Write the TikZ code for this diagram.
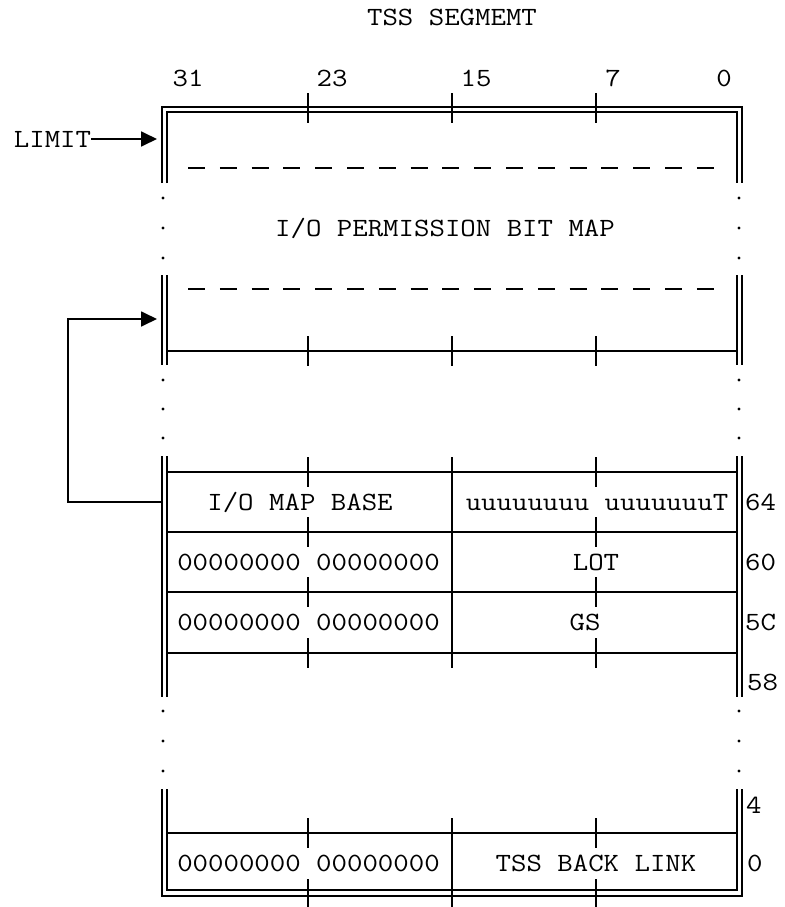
\documentclass[tikz,border=0pt]{standalone}
\usepackage{fontspec}
\newfontfamily\monofont[FakeStretch=1.14]{Latin Modern Mono}
\usetikzlibrary{arrows.meta}

\begin{document}
\begin{tikzpicture}[
  x=1pt, y=-1pt,
  font=\monofont\fontsize{26.3pt}{30pt}\selectfont,
  wall/.style={line width=1.3pt},
  rule/.style={line width=1.8pt},
  dashline/.style={line width=1.8pt, dash pattern=on 17pt off 14.8pt},
  lbl/.style={anchor=base, inner sep=0pt},
  offs/.style={anchor=base west, inner sep=0pt},
  dotmark/.style={fill=black, draw=none},
  arr/.style={-{Triangle[length=16pt,width=15pt]}, line width=1.8pt},
]
\useasboundingbox (0,0) rectangle (784,907);

% ---------------- title and bit numbers ----------------
\node[lbl] (title) at (452,26) {TSS SEGMEMT};
\node[lbl] (bit31) at (188,86) {31};
\node[lbl] (bit23) at (332,86) {23};
\node[lbl] (bit15) at (476,86) {15};
\node[lbl] (bit7) at (613,86) {7};
\node[lbl] (bit0) at (724,86) {0};

% ---------------- outer frame ----------------
\draw[wall] (162,183) -- (162,107) -- (742,107) -- (742,183);
\draw[wall] (167,183) -- (167,112) -- (737,112) -- (737,183);
\foreach \x in {308,452,596} \draw[rule] (\x,93) -- (\x,123);
\foreach \a/\b in {275/365,456/697} {
  \draw[wall] (162,\a) -- (162,\b);
  \draw[wall] (167,\a) -- (167,\b);
  \draw[wall] (737,\a) -- (737,\b);
  \draw[wall] (742,\a) -- (742,\b);
}
\draw[wall] (162,789) -- (162,896) -- (742,896) -- (742,789);
\draw[wall] (167,789) -- (167,890) -- (737,890) -- (737,789);
\foreach \x in {308,452,596} \draw[rule] (\x,879) -- (\x,907);

% ---------------- elided parts ----------------
\foreach \y in {198,228,258,380,409,438,711,741,771} {
  \fill[dotmark] (163,\y) circle (1.7);
  \fill[dotmark] (739,\y) circle (1.7);
}

% ---------------- I/O permission bit map ----------------
\draw[dashline] (188,168) -- (717,168);
\draw[dashline] (188,289) -- (717,289);
\node[lbl] (iomap) at (445,236) {I/O PERMISSION BIT MAP};

% ---------------- row separators ----------------
\foreach \y in {351,472,532,592,653,833} {
  \draw[rule] (167,\y) -- (737,\y);
  \foreach \x in {308,452,596} \draw[rule] (\x,\y-15) -- (\x,\y+15);
}
\draw[rule] (452,472) -- (452,653);
\draw[rule] (452,833) -- (452,890);

% ---------------- row contents ----------------
\node[lbl] (mapbase) at (300,510) {I/O MAP BASE};
\node[lbl] (tbit) at (597,510) {uuuuuuuu uuuuuuuT};
\node[lbl] (zeros60) at (308.5,570) {00000000 00000000};
\node[lbl] (ldt) at (596,570) {LOT};
\node[lbl] (zeros5c) at (308.5,630) {00000000 00000000};
\node[lbl] (gs) at (585,630) {GS};
\node[lbl] (zeros0) at (308.5,871) {00000000 00000000};
\node[lbl] (backlink) at (596,871) {TSS BACK LINK};

% ---------------- offsets ----------------
\node[offs] (off64) at (745,510) {64};
\node[offs] (off60) at (745,570) {60};
\node[offs] (off5c) at (745,630) {5C};
\node[offs] (off58) at (747,690) {58};
\node[offs] (off4) at (746,813) {4};
\node[offs] (off0) at (747,871) {0};

% ---------------- pointers ----------------
\node[lbl] (limit) at (52.5,147) {LIMIT};
\coordinate (limitend) at (157,139);
\coordinate (basestart) at (161,502);
\coordinate (bitmapstart) at (157,319);
\draw[arr] (limit.east |- limitend) -- (limitend);
\draw[arr] (basestart) -- ++(-93,0) |- (bitmapstart);

\end{tikzpicture}
\end{document}
